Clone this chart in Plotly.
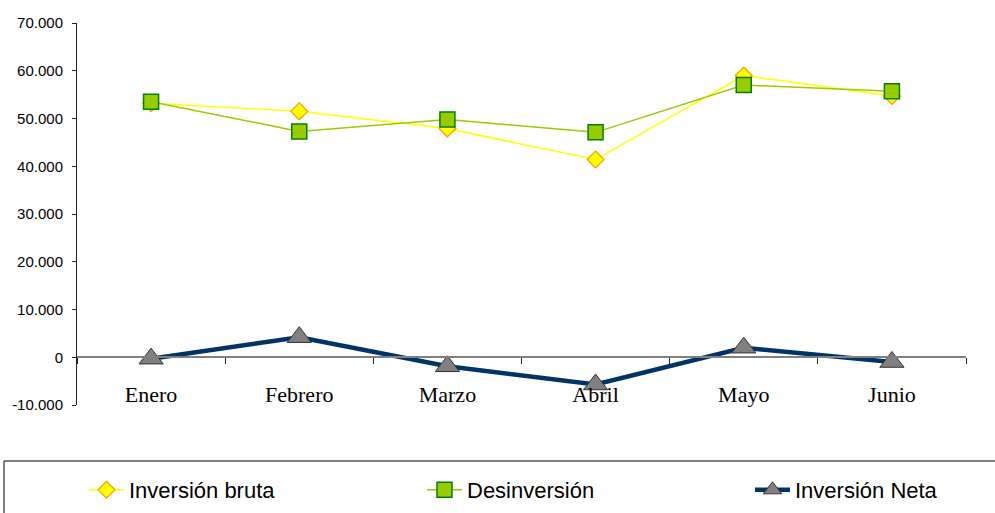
import plotly.graph_objects as go

months = ["Enero", "Febrero", "Marzo", "Abril", "Mayo", "Junio"]
inversion_bruta = [53200, 51500, 47900, 41400, 59000, 54700]
desinversion = [53500, 47300, 49800, 47100, 57000, 55700]
inversion_neta = [-300, 4200, -1900, -5700, 2000, -1000]

y_tickvals = [-10000, 0, 10000, 20000, 30000, 40000, 50000, 60000, 70000]
y_ticktext = ["-10.000", "0", "10.000", "20.000", "30.000", "40.000", "50.000", "60.000", "70.000"]

W, H = 995, 513
ML, MR, MT, MB = 77, 29, 23, 108
PW = W - ML - MR
PH = H - MT - MB

def px_x(p):
    return (p - ML) / PW

def px_y(p):
    return (H - MB - p) / PH

fig = go.Figure()
fig.add_trace(go.Scatter(
    x=months, y=inversion_bruta, name="Inversión bruta", mode="lines+markers",
    line=dict(color="#FFFF00", width=1.5), legend="legend",
    marker=dict(symbol="diamond", size=13, color="#FFFF00", line=dict(color="#FF9900", width=1.2)),
))
fig.add_trace(go.Scatter(
    x=months, y=desinversion, name="Desinversión", mode="lines+markers",
    line=dict(color="#99CC00", width=1.5), legend="legend2",
    marker=dict(symbol="square", size=15, color="#99CC00", line=dict(color="#008000", width=1.5)),
))
fig.add_trace(go.Scatter(
    x=months, y=inversion_neta, name="Inversión Neta", mode="lines+markers",
    line=dict(color="#003366", width=4.5), legend="legend3",
    marker=dict(symbol="triangle-up", size=21, color="#808080", line=dict(color="#333333", width=1)),
))

def leg(xpix):
    return dict(
        orientation="h", x=px_x(xpix), xanchor="left", y=px_y(490), yanchor="middle",
        font=dict(family="Liberation Sans, Arial, sans-serif", size=22, color="black"),
        bgcolor="rgba(0,0,0,0)", borderwidth=0, itemwidth=35,
    )

fig.update_layout(
    width=W, height=H, autosize=False,
    margin=dict(l=ML, r=MR, t=MT, b=MB, pad=0, autoexpand=False),
    paper_bgcolor="white", plot_bgcolor="white",
    font=dict(family="Liberation Sans, Arial, sans-serif", color="black"),
    xaxis=dict(
        type="category", categoryorder="array", categoryarray=months,
        range=[-0.5, 5.5], anchor="free", position=10000 / 80000,
        showline=True, linecolor="#808080", linewidth=1.5,
        ticks="outside", tickson="boundaries", ticklen=6, tickcolor="#222",
        showgrid=False, zeroline=False,
        tickfont=dict(family="Liberation Serif, Times New Roman, serif", size=22, color="black"),
        ticklabelstandoff=18,
    ),
    yaxis=dict(
        range=[-10000, 70000], tickvals=y_tickvals, ticktext=y_ticktext,
        showline=True, linecolor="#222", linewidth=1,
        ticks="outside", ticklen=4, tickcolor="#222",
        showgrid=False, zeroline=False,
        tickfont=dict(family="Liberation Sans, Arial, sans-serif", size=15, color="black"),
        ticklabelstandoff=6,
    ),
    legend=leg(84),
    legend2=leg(422),
    legend3=leg(750),
    showlegend=True,
    shapes=[dict(
        type="rect", xref="paper", yref="paper",
        x0=px_x(4), x1=px_x(1005), y0=px_y(461), y1=px_y(525),
        line=dict(color="#000", width=1), fillcolor="rgba(0,0,0,0)",
    )],
)

fig.write_html("out.html", config={"displayModeBar": False},
               post_script="document.body.style.margin='0';")
